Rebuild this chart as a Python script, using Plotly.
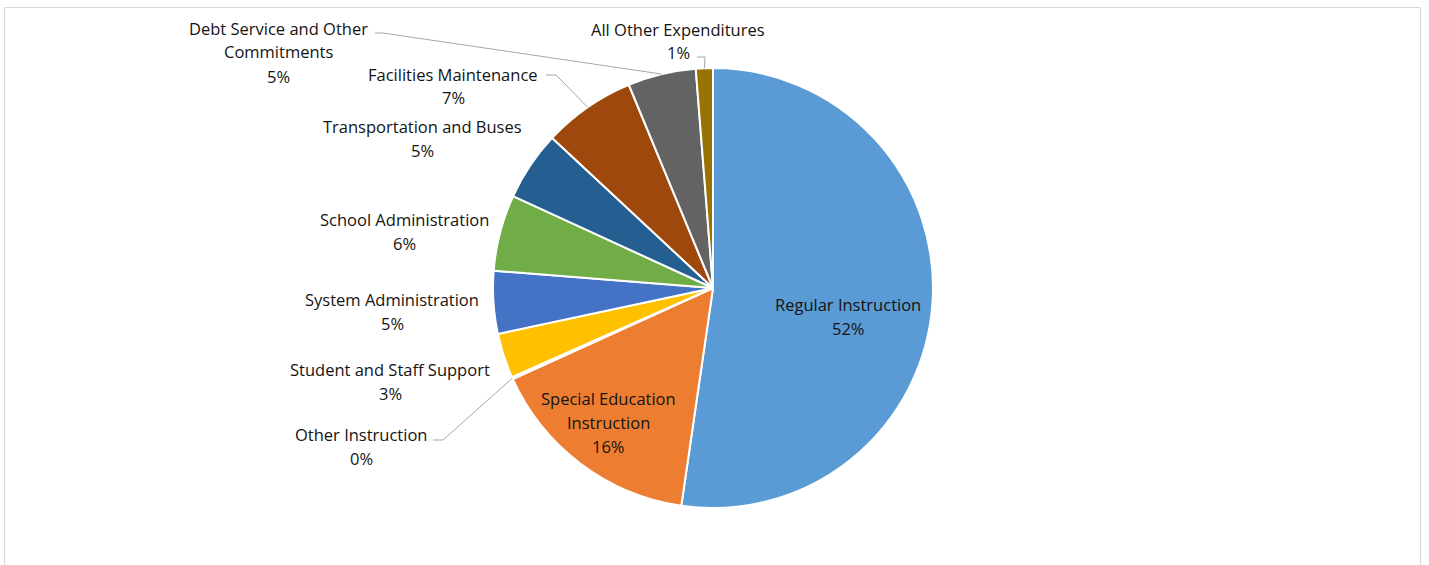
import math
import plotly.graph_objects as go

# ---- data ----
categories = ["Regular Instruction", "Special Education Instruction", "Other Instruction",
              "Student and Staff Support", "System Administration", "School Administration",
              "Transportation and Buses", "Facilities Maintenance",
              "Debt Service and Other Commitments", "All Other Expenditures"]
values = [52.3, 15.9, 0.15, 3.3, 4.6, 5.6, 5.1, 6.8, 5.0, 1.25]
display_labels = ["Regular Instruction", "Special Education<br>Instruction", "Other Instruction",
                  "Student and Staff Support", "System Administration", "School Administration",
                  "Transportation and Buses", "Facilities Maintenance",
                  "Debt Service and Other<br>Commitments", "All Other Expenditures"]
colors = ["#5B9BD5", "#ED7D31", "#A5A5A5", "#FFC000", "#4472C4", "#70AD47",
          "#255E91", "#9E480E", "#636363", "#997300"]

# ---- layout (pixel positions of label first-line centres) ----
W, H = 1429, 565
ML, MR, MT, MB = 0, 3, 68, 57
PW, PH = W - ML - MR, H - MT - MB
CX, CY, R = ML + PW / 2, MT + PH / 2, min(PW, PH) / 2

label_pos = [(848, 304), (608, 398), (361, 434), (390, 369), (392, 299), (404, 219),
             (423, 126), (453, 74), (278, 28), (678, 29)]
# elbow polylines (text side) for labels with leader lines: index -> (start, elbow)
leaders = {8: ((375, 33), (383, 33)), 7: ((546, 75), (556, 75)),
           9: ((697, 57), (705, 57)), 2: ((433, 440), (443, 440))}
LINE_H = 24
FONT_SIZE = 16.5


def px(x):
    return (x - ML) / PW


def py(y):
    return 1 - (y - MT) / PH


fig = go.Figure(go.Pie(
    labels=categories, values=values, sort=False, direction="clockwise", rotation=0,
    marker=dict(colors=colors, line=dict(color="white", width=2)),
    textinfo="none", hoverinfo="label+percent", showlegend=False,
    domain=dict(x=[0, 1], y=[0, 1])))

total = sum(values)
annotations = []
shapes = []
cum = 0
for i, (lab, v) in enumerate(zip(display_labels, values)):
    pct = f"{round(100 * v / total):.0f}%"
    lines = lab.split("<br>") + [pct]
    x0, y0 = label_pos[i]
    for j, t in enumerate(lines):
        annotations.append(dict(x=px(x0), y=py(y0 + j * LINE_H), xref="paper", yref="paper",
                                text=t, showarrow=False, xanchor="center", yanchor="middle",
                                font=dict(size=FONT_SIZE, color="#141414")))
    mid = (cum + v / 2) / total * 2 * math.pi
    cum += v
    if i in leaders:
        (sx, sy), (ex, ey) = leaders[i]
        tx = CX + R * math.sin(mid)
        ty = CY - R * math.cos(mid)
        shapes.append(dict(type="path", xref="paper", yref="paper",
                           path=f"M {px(sx)},{py(sy)} L {px(ex)},{py(ey)} L {px(tx)},{py(ty)}",
                           line=dict(color="#A6A6A6", width=1)))

shapes.append(dict(type="rect", xref="paper", yref="paper", x0=px(4.5), x1=px(1420.5),
                   y0=py(570), y1=py(7.5), line=dict(color="#D9D9D9", width=1)))

fig.update_layout(width=W, height=H, margin=dict(l=ML, r=MR, t=MT, b=MB),
                  paper_bgcolor="white", plot_bgcolor="white",
                  font=dict(family="'Open Sans', Lato, sans-serif", size=FONT_SIZE, color="#141414"),
                  annotations=annotations, shapes=shapes)

fig.write_html("out.html")
